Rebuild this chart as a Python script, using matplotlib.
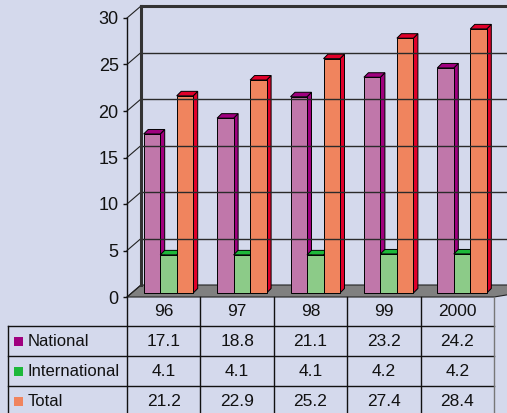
import numpy as np
import matplotlib.pyplot as plt
from matplotlib.patches import Polygon

plt.rcParams['font.family'] = ['Liberation Sans Narrow', 'Liberation Sans', 'DejaVu Sans']

years = ['96', '97', '98', '99', '2000']
series = ['National', 'International', 'Total']
national = [17.1, 18.8, 21.1, 23.2, 24.2]
international = [4.1, 4.1, 4.1, 4.2, 4.2]
total = [21.2, 22.9, 25.2, 27.4, 28.4]
valores = [national, international, total]

caras = ['#C077AA', '#8CCB88', '#F0845E']
lados = ['#A0007E', '#1DB83A', '#E0002A']
fondo = '#D4D9EC'

W, H = 507, 413
# pixeles de la zona del grafico
x0, x1 = 127, 494
y0, y1 = 297, 18
ymax = 30
px_x = (x1 - x0) / len(years)
px_y = (y0 - y1) / ymax

def P(xu, v, dx=0, dy=0):
    # dx, dy en pixeles (dy hacia arriba)
    return (xu + dx / px_x, v + dy / px_y)

def ypx(py):
    # fila de la tabla en pixeles (desde arriba) a unidades
    return (y0 - py) / px_y

def xpx(px):
    return (px - x0) / px_x

fig = plt.figure(figsize=(W / 100, H / 100), dpi=100, facecolor=fondo)
ax = fig.add_axes([x0 / W, (H - y0) / H, (x1 - x0) / W, (y0 - y1) / H])
ax.set_facecolor('none')
ax.set_xlim(0, len(years))
ax.set_ylim(0, ymax)
for s in ['top', 'right', 'bottom', 'left']:
    ax.spines[s].set_visible(False)
ax.set_xticks([])
ax.set_yticks(range(0, ymax + 1, 5))
ax.tick_params(axis='y', length=3, width=1, pad=3, labelsize=13, colors='#111111')

prof_x, prof_y = 14, 12
xfin = 6

# paredes y lineas de la cuadricula
for v in range(0, ymax + 1, 5):
    a = P(0, v)
    b = P(0, v, prof_x, prof_y)
    ax.plot([a[0], b[0]], [a[1], b[1]], color='#222222', lw=0.8, clip_on=False)
    if 0 < v < ymax:
        ax.plot([b[0], xfin], [b[1], b[1]], color='#2a2a2a', lw=1.0, clip_on=False)
top = P(0, ymax, prof_x, prof_y)
ax.plot([top[0], xfin], [top[1], top[1]], color='#333333', lw=2.2, clip_on=False)
bl = P(0, 0, prof_x, prof_y)
ax.plot([bl[0], top[0]], [bl[1], top[1]], color='#333333', lw=2.2, clip_on=False)

# piso
n = len(years)
piso = [P(0, 0), P(n, 0), P(n, 0, prof_x, prof_y), P(0, 0, prof_x, prof_y)]
piso[2] = (xfin, piso[2][1])
ax.add_patch(Polygon(piso, closed=True, facecolor='#808080', edgecolor='#222222',
                     lw=0.8, clip_on=False))

# barras
bdx, bdy = 4.7, 4.0
sx, sy = 4.5, 4.5
ancho = 16.5
offs = [12, 28.5, 45]
for i in range(n):
    for j in range(3):
        v = valores[j][i]
        xl = i + offs[j] / px_x
        xr = xl + ancho / px_x
        frente = [P(xl, 0, bdx, bdy), P(xr, 0, bdx, bdy), P(xr, v, bdx, bdy), P(xl, v, bdx, bdy)]
        lado = [P(xr, 0, bdx, bdy), P(xr, 0, bdx + sx, bdy + sy),
                P(xr, v, bdx + sx, bdy + sy), P(xr, v, bdx, bdy)]
        tapa = [P(xl, v, bdx, bdy), P(xr, v, bdx, bdy),
                P(xr, v, bdx + sx, bdy + sy), P(xl, v, bdx + sx, bdy + sy)]
        for pts, c in [(lado, lados[j]), (tapa, lados[j]), (frente, caras[j])]:
            ax.add_patch(Polygon(pts, closed=True, facecolor=c, edgecolor='black',
                                 lw=0.7, clip_on=False))

# eje vertical (sigue dentro de la tabla)
ax.plot([0, 0], [ypx(420), ymax], color='#111111', lw=1.0, clip_on=False)

# tabla
filas = [297, 326, 356, 386, 420]
izq = xpx(8)
for k, py in enumerate(filas[1:4]):
    ax.plot([izq, n], [ypx(py), ypx(py)], color='#111111', lw=1.0, clip_on=False)
ax.plot([izq, izq], [ypx(326), ypx(420)], color='#111111', lw=1.0, clip_on=False)
for i in range(1, n):
    ax.plot([i, i], [0, ypx(420)], color='#111111', lw=1.0, clip_on=False)
ax.plot([n, n], [0, ypx(420)], color='#777777', lw=1.0, clip_on=False)

for i, y in enumerate(years):
    ax.text(i + 0.5, ypx(311), y, ha='center', va='center', fontsize=12.5, color='#111111')
for j, nombre in enumerate(series):
    yc = ypx((filas[j + 1] + filas[j + 2]) / 2)
    if j == 2:
        yc = ypx(401)
    ax.add_patch(Polygon([P(xpx(14), yc, 0, -4.5), P(xpx(23), yc, 0, -4.5),
                          P(xpx(23), yc, 0, 4.5), P(xpx(14), yc, 0, 4.5)],
                         closed=True, facecolor=[lados[0], lados[1], caras[2]][j],
                         edgecolor='none', clip_on=False))
    ax.text(xpx(28), yc, nombre, ha='left', va='center', fontsize=12, color='#111111')
    for i in range(n):
        ax.text(i + 0.5, yc, f'{valores[j][i]:.1f}', ha='center', va='center',
                fontsize=12.5, color='#111111')

fig.savefig('out.png', dpi=100, facecolor=fondo)
